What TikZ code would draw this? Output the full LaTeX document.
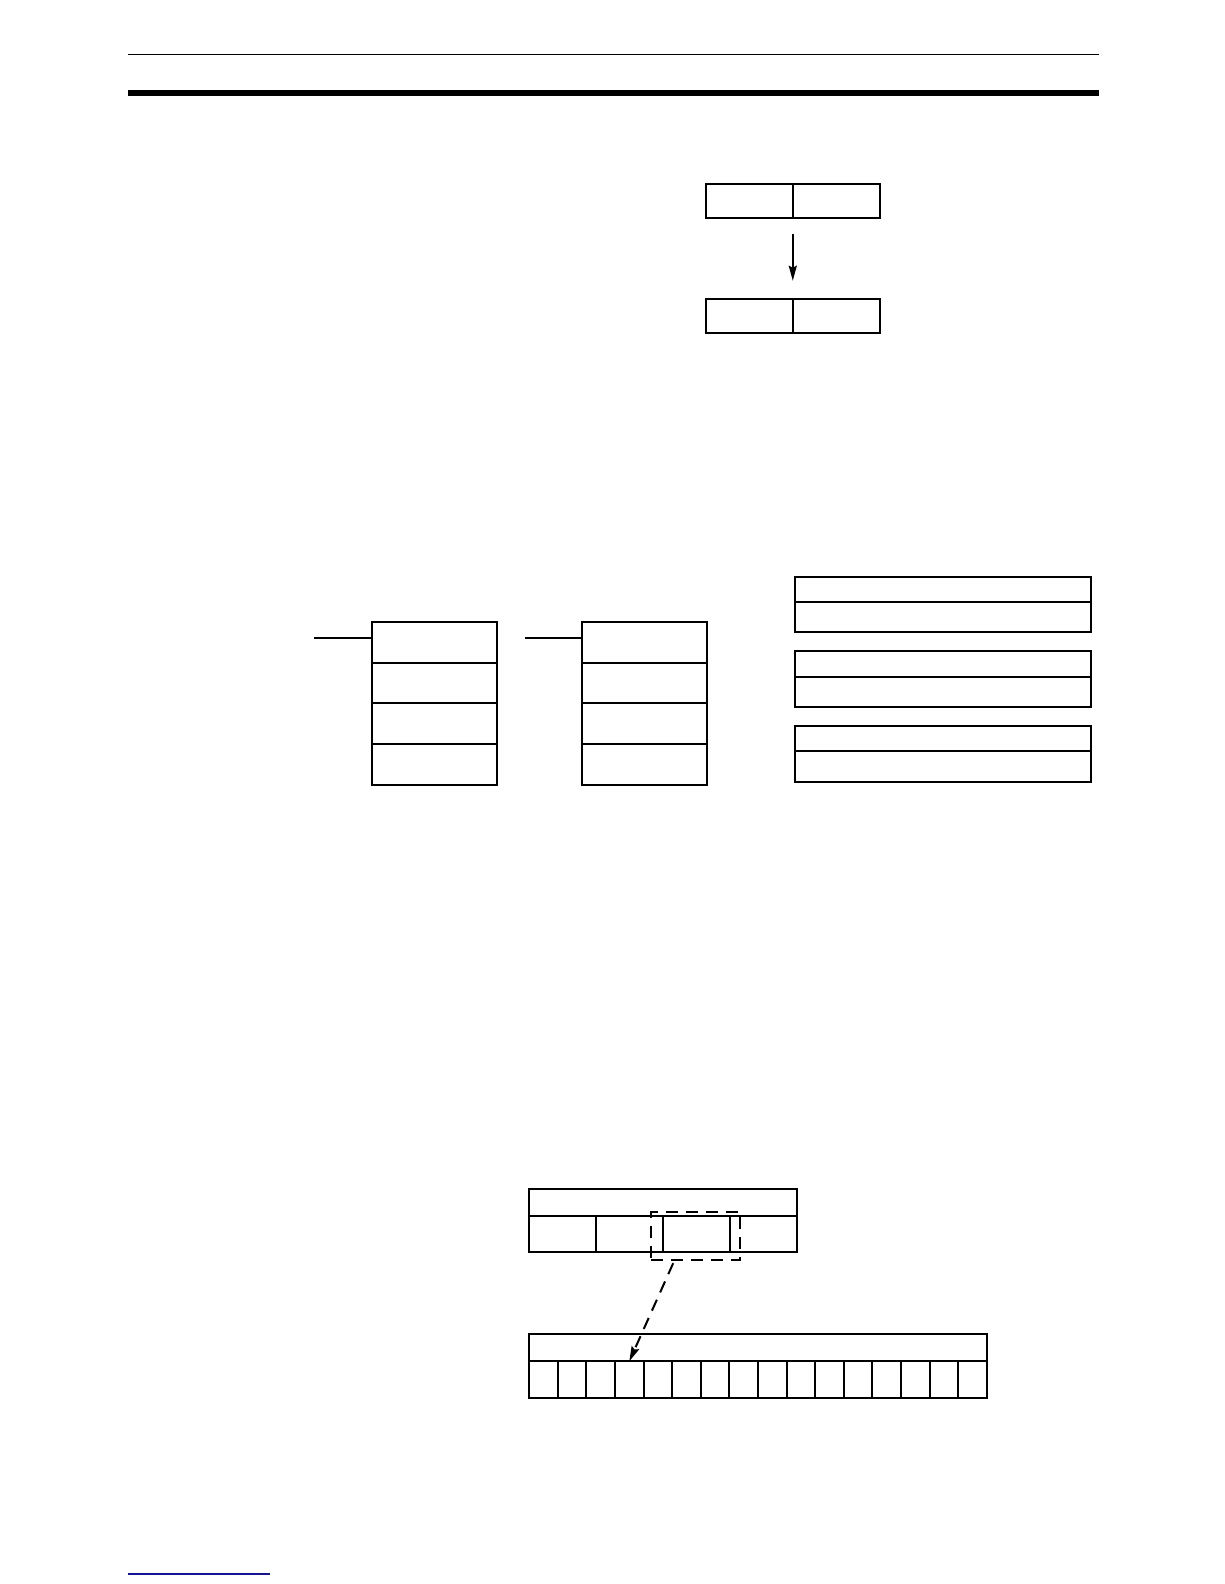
\documentclass[tikz,border=0pt]{standalone}
\usetikzlibrary{arrows.meta, positioning, calc}
\definecolor{linkblue}{RGB}{20,20,150}
\newdimen\unitpx
\unitpx=0.50495pt

\begin{document}
\begin{tikzpicture}[
        x=\unitpx, y=-\unitpx, line width=1pt,
        cell/.style={rectangle, draw, inner sep=0pt, outer sep=0pt},
        pair/.style={cell, minimum width=86\unitpx, minimum height=34\unitpx},
        stackcell/.style={cell, minimum width=124\unitpx, minimum height=40.25\unitpx},
        wide/.style={cell, minimum width=293\unitpx},
        word/.style={cell, minimum height=36\unitpx},
        flow/.style={-{Stealth[length=7.5pt, width=4pt, inset=1pt]}},
        pick/.style={dashed, dash pattern=on 6pt off 4pt}
    ]
        \useasboundingbox (0,0) rectangle (1212,1568.47);

        % page rules
        \draw[line width=0.75pt] (127,54) -- (1088,54);
        \draw[line width=3pt] (127,92) -- (1088,92);
        \draw[linkblue, line width=1pt] (127,1559) -- (267,1559);

        % top: source and destination
        \node[pair] (srcl) at (742,199) {};
        \node[pair, right=0pt of srcl] (srcr) {};
        \node[pair] (dstl) at (742,313) {};
        \node[pair, right=0pt of dstl] (dstr) {};
        \draw[flow, shorten <=16\unitpx, shorten >=18\unitpx] (srcl.south east) -- (dstl.north east);

        % middle: two stacks with input lines
        \foreach \s/\x/\l in {a/430/311, b/638.5/520} {
            \foreach \i in {1,...,4}
                \node[stackcell] (\s\i) at (\x,{636+40.25*(\i-1)}) {};
            \coordinate (in\s) at (\l,632);
            \draw (in\s) -- (in\s -| \s1.west);
        }

        % middle: three two-row boxes
        \foreach \k/\y in {1/583.5, 2/657.5, 3/731.5} {
            \node[wide, minimum height=25\unitpx] (head\k) at (933.5,\y) {};
            \node[wide, minimum height=30\unitpx, below=0pt of head\k] (body\k) {};
        }

        % bottom: word and bits
        \node[cell, minimum width=265\unitpx, minimum height=27\unitpx] (wordhd) at (656.5,1190.5) {};
        \foreach \i in {1,...,4}
            \node[word, minimum width=66.25\unitpx] (dig\i) at ({557.125+66.25*(\i-1)},1222) {};
        \node[cell, minimum width=453\unitpx, minimum height=27\unitpx] (bithd) at (750.5,1334.5) {};
        \foreach \i in {1,...,16}
            \node[word, minimum width=28.3125\unitpx] (bit\i) at ({538.156+28.3125*(\i-1)},1366) {};

        \node[rectangle, draw, pick, inner sep=0pt, minimum width=88\unitpx, minimum height=48\unitpx] (sel) at (689,1224) {};
        \coordinate (selfoot) at ($(sel.south west)!0.26!(sel.south east)$);
        \draw[flow, pick, shorten <=1pt] (selfoot) -- (bit4.north);
    \end{tikzpicture}
\end{document}
